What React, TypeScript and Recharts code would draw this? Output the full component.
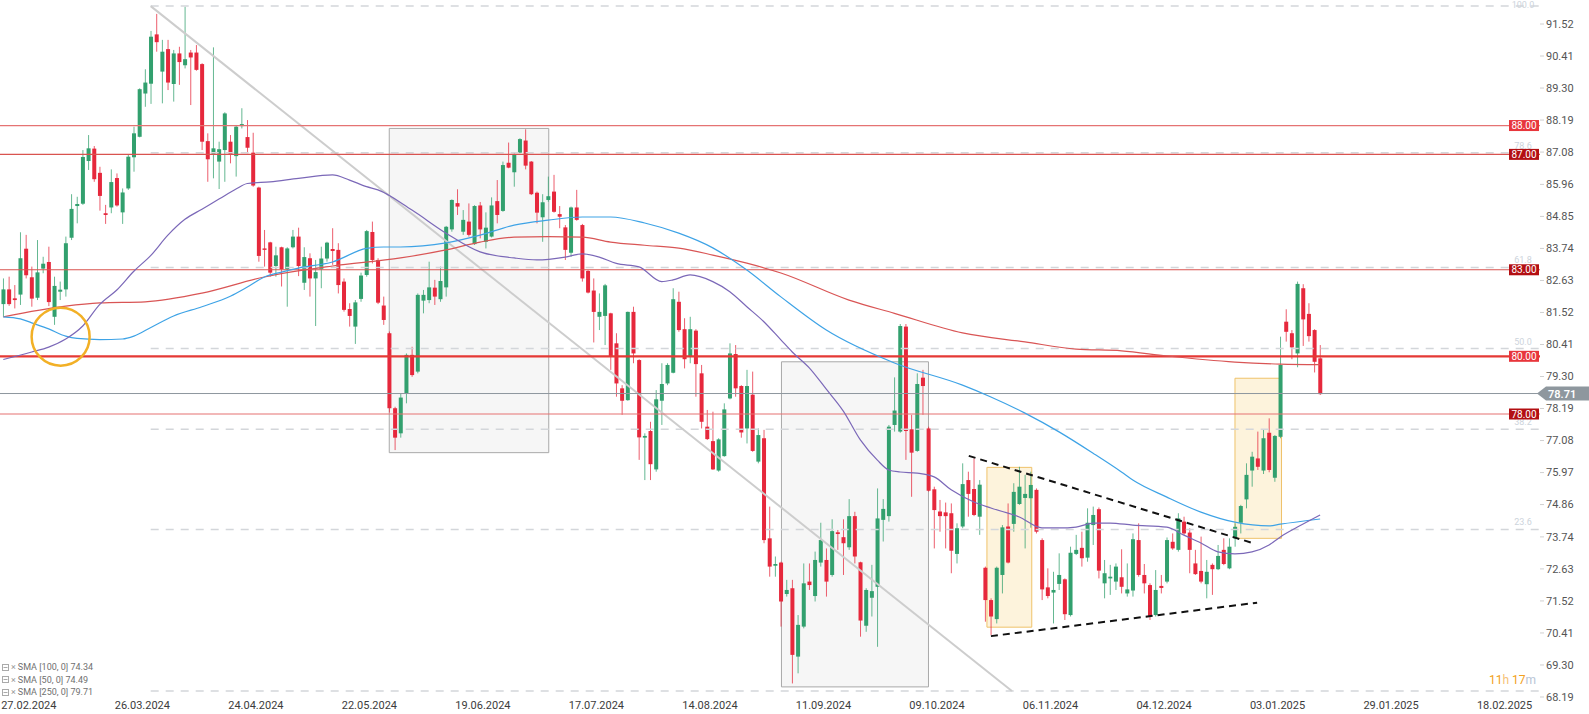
import React from "react";
import {
  ComposedChart,
  Bar,
  Line,
  XAxis,
  YAxis,
  ReferenceLine,
  ReferenceArea,
  ReferenceDot,
} from "recharts";

// daily candles
const OPEN = [
  81.81, 82.32, 82.01, 82.14, 83.73, 82.74, 82.03, 83.04, 83.27, 81.37,
  82.24, 82.32, 84.11, 85.21, 85.29, 86.77, 87.2, 86.36, 84.96, 85.16,
  86.18, 84.99, 85.82, 86.9, 87.61, 89.11, 89.45, 91.16, 89.87, 90.65,
  89.44, 90.5, 90.09, 90.53, 90.53, 90.13, 87.46, 87.01, 86.75, 87.15,
  87.44, 86.94, 87.98, 87.6, 87.06, 85.85, 83.74, 83.95, 83.13, 83.78,
  83.02, 83.78, 84.15, 82.55, 83.4, 82.7, 83.02, 83.39, 83.72, 83.69,
  82.59, 81.64, 81.03, 81.99, 82.82, 84.31, 83.34, 81.76, 80.8, 78.2,
  77.33, 78.72, 80.05, 79.47, 81.93, 81.95, 82.38, 81.98, 82.39, 84.4,
  85.31, 84.32, 84.67, 83.89, 85.23, 83.97, 84.15, 85.38, 85.04, 86.71,
  86.38, 87.06, 87.48, 86.75, 85.67, 84.82, 85.42, 85.71, 84.93, 84.47,
  83.59, 85.16, 84.55, 82.96, 82.28, 81.37, 81.4, 81.49, 80.45, 78.89,
  78.48, 81.54, 79.87, 77.18, 77.41, 76.08, 78.46, 79.06, 79.43, 81.89,
  80.94, 79.99, 80.89, 79.41, 77.56, 77.06, 76.04, 76.54, 78.54, 80.08,
  78.97, 77.5, 78.67, 76.35, 77.16, 73.69, 72.74, 72.85, 71.76, 71.96,
  69.59, 70.63, 72.19, 71.69, 72.85, 72.94, 72.42, 73.9, 73.73, 73.38,
  74.46, 72.86, 70.66, 71.63, 72.01, 74.33, 74.46, 77.62, 77.39, 81.03,
  77.47, 76.72, 79.26, 77.5, 75.39, 74.62, 74.59, 74.56, 73.15, 74.1,
  75.71, 75.4, 74.44, 72.67, 71.55, 70.89, 72.42, 74.1, 74.19, 74.88,
  75.09, 75.08, 75.37, 73.63, 71.99, 71.81, 72.11, 72.27, 71.03, 73.15,
  73.36, 73.02, 74.15, 74.7, 72.13, 72.3, 72.19, 72.34, 71.78, 71.88,
  73.63, 72.42, 72.07, 71.03, 72.04, 72.19, 73.57, 73.29, 74.27, 73.89,
  72.82, 72.56, 72.1, 72.77, 72.62, 73.29, 72.65, 73.69, 74.23, 75.04,
  76.04, 76.46, 76.04, 77.35, 75.79, 77.21, 81.2, 80.8, 80.1, 82.36,
  81.47, 80.91, 79.93,
];
const HIGH = [
  82.7, 82.76, 82.47, 84.3, 84.21, 83.11, 84.03, 83.45, 83.8, 82.76,
  82.59, 84.15, 85.62, 85.53, 87.15, 87.67, 87.29, 86.57, 85.25, 86.48,
  86.34, 85.82, 87.01, 87.96, 89.29, 89.95, 91.28, 91.87, 90.97, 90.97,
  90.62, 90.73, 92.12, 90.62, 90.79, 90.16, 87.73, 90.71, 87.44, 88.46,
  87.67, 88.02, 88.6, 88.19, 87.75, 85.88, 84.38, 83.97, 83.8, 83.8,
  83.78, 84.38, 84.46, 83.78, 83.57, 83.34, 83.8, 83.97, 84.44, 83.92,
  82.7, 81.84, 81.95, 82.9, 84.38, 84.67, 83.4, 82.07, 80.86, 78.25,
  78.72, 80.1, 80.33, 82.18, 82.3, 83.28, 82.65, 83.11, 84.52, 85.44,
  85.79, 85.07, 85.3, 85.24, 85.35, 84.99, 85.51, 86.11, 86.75, 87.41,
  87.04, 87.56, 87.87, 86.77, 85.71, 85.62, 86.23, 86.29, 85.21, 84.55,
  85.19, 85.77, 84.59, 82.99, 82.7, 82.18, 82.51, 81.51, 80.8, 79.0,
  81.55, 81.72, 79.9, 77.33, 77.73, 78.83, 79.76, 79.76, 82.36, 82.24,
  81.32, 81.37, 80.94, 79.7, 78.14, 78.08, 77.16, 78.37, 80.45, 80.39,
  79.0, 79.53, 79.47, 77.5, 77.45, 74.79, 73.06, 72.88, 72.25, 72.25,
  71.03, 72.82, 72.82, 73.23, 74.23, 73.34, 74.35, 73.98, 74.35, 75.05,
  74.61, 72.88, 71.96, 72.77, 75.42, 75.05, 77.62, 79.27, 81.12, 81.12,
  77.97, 79.41, 79.53, 77.56, 75.48, 75.02, 74.93, 74.9, 74.21, 76.29,
  76.0, 76.46, 75.71, 72.71, 71.61, 72.71, 74.15, 74.9, 75.6, 76.17,
  75.89, 76.0, 75.42, 73.69, 72.65, 72.53, 73.17, 72.3, 73.4, 73.81,
  73.92, 74.73, 74.79, 74.76, 72.94, 72.77, 72.82, 73.31, 72.82, 73.86,
  74.21, 72.8, 72.13, 72.59, 72.42, 73.72, 73.86, 74.56, 74.44, 74.04,
  73.29, 73.75, 72.94, 72.82, 73.46, 73.69, 73.69, 74.21, 74.85, 76.29,
  76.69, 77.39, 77.45, 77.85, 77.27, 80.68, 81.63, 80.91, 82.59, 82.5,
  81.84, 80.94, 80.39,
];
const LOW = [
  81.37, 81.75, 81.66, 81.78, 82.7, 81.72, 81.95, 82.88, 81.74, 81.09,
  81.95, 82.07, 84.03, 84.61, 85.25, 86.46, 86.05, 85.05, 84.59, 84.96,
  85.19, 84.59, 85.77, 86.4, 87.59, 88.65, 88.75, 90.56, 88.77, 89.23,
  88.83, 89.41, 89.98, 88.71, 89.9, 87.15, 86.05, 86.17, 85.8, 86.05,
  86.69, 86.23, 87.9, 87.04, 85.88, 83.28, 83.11, 82.76, 82.76, 82.42,
  81.72, 83.74, 82.78, 82.3, 82.07, 81.05, 82.36, 83.28, 83.17, 82.18,
  81.55, 81.03, 80.43, 81.89, 82.76, 83.22, 81.81, 81.09, 78.05, 76.75,
  77.18, 78.37, 79.29, 79.41, 81.49, 81.84, 81.78, 81.89, 82.07, 84.32,
  84.9, 84.21, 84.15, 83.86, 84.09, 83.74, 84.12, 84.61, 85.01, 86.52,
  85.88, 87.04, 86.48, 85.59, 84.61, 83.97, 85.36, 84.98, 84.44, 83.34,
  83.45, 84.7, 82.59, 82.18, 80.48, 80.91, 80.39, 79.53, 78.6, 77.97,
  78.46, 79.76, 76.41, 75.71, 75.71, 76.0, 77.62, 79.0, 79.41, 80.85,
  79.58, 79.76, 78.6, 77.5, 77.1, 76.06, 76.0, 76.52, 78.51, 78.6,
  77.18, 76.98, 76.69, 76.29, 73.52, 72.36, 72.36, 70.63, 71.67, 68.66,
  69.01, 70.57, 71.9, 71.5, 72.71, 71.67, 72.36, 73.29, 72.42, 73.29,
  72.82, 70.28, 70.45, 70.98, 69.93, 73.58, 74.27, 77.39, 77.35, 76.41,
  75.13, 76.69, 77.97, 75.31, 73.34, 73.92, 73.34, 72.48, 72.82, 74.04,
  74.44, 74.46, 73.81, 70.8, 70.34, 70.74, 71.78, 72.82, 73.92, 74.85,
  73.34, 74.06, 73.86, 71.55, 71.61, 70.74, 71.9, 70.86, 70.98, 73.11,
  72.71, 72.88, 73.46, 72.3, 71.61, 71.73, 71.9, 71.78, 71.67, 71.67,
  72.36, 71.78, 70.86, 70.98, 71.78, 72.13, 73.29, 73.23, 73.81, 72.48,
  72.42, 72.13, 71.61, 71.73, 72.59, 72.76, 72.62, 73.4, 73.86, 74.73,
  75.48, 76.06, 75.92, 75.98, 75.65, 77.16, 80.51, 79.9, 79.62, 80.36,
  80.51, 79.44, 78.66,
];
const CLOSE = [
  82.32, 81.81, 81.95, 83.4, 82.81, 82.0, 82.91, 83.21, 81.88, 82.44,
  82.31, 83.92, 85.11, 85.28, 86.91, 87.21, 86.14, 85.56, 84.9, 86.04,
  85.23, 85.68, 86.92, 87.73, 89.26, 89.49, 91.08, 90.89, 90.56, 89.49,
  90.5, 90.2, 90.3, 90.36, 89.93, 87.44, 86.83, 87.21, 87.18, 88.42,
  87.0, 87.96, 88.05, 87.23, 85.92, 83.48, 83.69, 82.9, 83.5, 83.02,
  83.74, 84.15, 83.13, 83.44, 82.7, 82.92, 83.39, 83.94, 83.65, 82.47,
  81.61, 81.4, 81.87, 82.8, 84.34, 83.34, 81.86, 81.26, 78.2, 77.18,
  78.57, 80.05, 79.35, 82.13, 82.13, 82.39, 82.07, 82.61, 84.49, 85.42,
  85.19, 84.73, 84.21, 85.21, 84.4, 84.46, 85.23, 84.9, 86.63, 86.54,
  87.0, 87.53, 86.61, 85.62, 84.98, 85.34, 85.55, 85.01, 84.84, 83.69,
  85.16, 84.73, 82.7, 82.21, 81.54, 81.54, 82.46, 79.99, 79.06, 78.46,
  81.54, 80.1, 77.19, 77.24, 76.26, 78.51, 79.04, 79.7, 81.98, 80.91,
  79.9, 80.94, 79.73, 77.73, 77.13, 76.08, 77.12, 78.16, 80.1, 78.89,
  77.36, 78.97, 76.72, 77.27, 73.63, 72.71, 72.8, 71.5, 71.9, 69.65,
  70.69, 72.13, 72.07, 72.94, 73.63, 72.19, 73.94, 73.84, 73.52, 74.46,
  73.06, 70.84, 71.9, 71.86, 74.38, 74.71, 77.56, 78.12, 81.05, 77.41,
  76.66, 79.04, 78.97, 75.34, 74.67, 74.46, 74.46, 73.26, 74.04, 75.57,
  75.23, 74.5, 75.55, 71.55, 70.98, 72.67, 74.07, 72.85, 75.3, 75.48,
  75.23, 75.54, 73.92, 71.92, 71.69, 71.9, 72.42, 71.06, 73.19, 73.29,
  73.0, 74.23, 74.5, 72.57, 72.48, 72.36, 72.71, 72.01, 71.92, 73.66,
  72.42, 72.13, 71.0, 71.9, 71.97, 73.63, 73.34, 74.38, 73.86, 73.29,
  72.45, 72.19, 72.53, 72.62, 73.08, 72.8, 73.4, 74.09, 74.81, 75.89,
  76.52, 76.17, 77.16, 76.06, 77.24, 79.7, 80.85, 80.31, 82.51, 81.28,
  80.7, 79.81, 78.69,
];

// moving averages, sampled at bar index
const SMA50_AT = [0, 5, 8, 11, 14, 17, 20, 23, 26, 29, 32, 35, 38, 41, 43, 47, 52, 58, 61, 64, 66, 72, 78, 84, 90, 94, 99, 102, 105, 108, 112, 116, 118, 121, 125, 128, 131, 134, 137, 139, 142, 145, 148, 151, 154, 156, 158, 161, 164, 167, 171, 174, 179, 183, 186, 189, 192, 195, 199, 205, 208, 211, 214, 217, 220, 223, 225, 228, 232];
const SMA50 = [79.89, 80.15, 80.32, 80.6, 81.05, 81.8, 82.3, 82.95, 83.5, 84.2, 84.75, 85.1, 85.45, 85.8, 85.99, 86.05, 86.17, 86.29, 86.11, 85.88, 85.77, 85.07, 84.27, 83.62, 83.41, 83.34, 83.44, 83.55, 83.44, 83.22, 83.1, 82.59, 82.65, 82.82, 82.59, 82.24, 81.72, 81.2, 80.57, 80.15, 79.6, 78.86, 78.1, 77.1, 76.4, 76.06, 75.99, 75.95, 75.82, 75.37, 74.95, 74.74, 74.43, 74.05, 74.05, 74.08, 74.22, 74.22, 74.15, 74.08, 73.8, 73.53, 73.22, 73.15, 73.22, 73.46, 73.74, 74.08, 74.5];
const SMA100_AT = [0, 3, 5, 8, 11, 13, 17, 21, 23, 26, 30, 35, 40, 43, 46, 49, 52, 58, 64, 67, 70, 78, 84, 90, 96, 102, 107, 113, 119, 125, 131, 137, 145, 157, 169, 174, 180, 186, 192, 197, 199, 205, 211, 217, 223, 225, 232];
const SMA100 = [81.37, 81.3, 81.16, 80.95, 80.7, 80.62, 80.58, 80.6, 80.7, 81.0, 81.4, 81.72, 82.08, 82.4, 82.75, 82.92, 83.06, 83.27, 83.74, 83.79, 83.79, 83.93, 84.2, 84.55, 84.72, 84.83, 84.83, 84.62, 84.27, 83.76, 82.99, 82.06, 80.91, 79.77, 79.0, 78.59, 78.03, 77.38, 76.64, 75.99, 75.71, 75.12, 74.6, 74.25, 74.12, 74.18, 74.36];
const SMA250_AT = [0, 11, 17, 25, 35, 46, 58, 70, 78, 84, 90, 96, 102, 107, 113, 119, 125, 131, 137, 149, 157, 169, 180, 189, 197, 205, 217, 225, 232];
const SMA250 = [81.37, 81.74, 81.85, 81.89, 82.19, 82.75, 83.13, 83.41, 83.69, 83.96, 84.13, 84.15, 84.13, 83.96, 83.85, 83.75, 83.51, 83.23, 82.89, 81.95, 81.49, 80.81, 80.5, 80.25, 80.19, 80.01, 79.8, 79.73, 79.71];

const DATE_TICKS = [4.5, 24.5, 44.5, 64.5, 84.5, 104.5, 124.5, 144.5, 164.5, 184.5, 204.5, 224.5, 244.5, 264.5];
const DATE_LABELS = ["27.02.2024", "26.03.2024", "24.04.2024", "22.05.2024", "19.06.2024", "17.07.2024", "14.08.2024", "11.09.2024", "09.10.2024", "06.11.2024", "04.12.2024", "03.01.2025", "29.01.2025", "18.02.2025"];
const PRICE_TICKS = [91.52, 90.41, 89.3, 88.19, 87.08, 85.96, 84.85, 83.74, 82.63, 81.52, 80.41, 79.3, 78.19, 77.08, 75.97, 74.86, 73.74, 72.63, 71.52, 70.41, 69.3, 68.19];

const LEVELS = [88, 87, 83, 80, 78];
const LAST_PRICE = 78.71;

const FIB_NAMES = ["23.6", "38.2", "50.0", "61.8", "78.6", "100.0"];
const FIB_PRICES = [74.0, 77.47, 80.27, 83.08, 87.06, 92.14];
const FIB_ZERO = 68.4;
const FIB_START = 25.97;

// boxes: [x1, x2, y1, y2]
const GRAY_BOXES = [
  [68.0, 96.1, 76.66, 87.9],
  [137.1, 163.0, 68.54, 79.81],
];
const GOLD_BOXES = [
  [173.3, 181.2, 70.61, 76.15],
  [217.0, 225.2, 73.69, 79.24],
];
const TREND_DOWN = [{ x: 25.97, y: 92.14 }, { x: 177.7, y: 68.4 }];
const WEDGE_TOP = [{ x: 170.1, y: 76.55 }, { x: 219.9, y: 73.54 }];
const WEDGE_BOTTOM = [{ x: 174.0, y: 70.3 }, { x: 220.9, y: 71.46 }];
const CROSS_MARK = { x: 10.1, y: 80.68 };

const LEGEND_NAMES = ["SMA [100, 0]", "SMA [50, 0]", "SMA [250, 0]"];
const LEGEND_VALUES = [74.34, 74.49, 79.71];

const GREEN = "#32a06e";
const RED = "#e6283c";
const X_DOMAIN = [-0.58, 270.74];
const Y_DOMAIN = [67.635, 92.352];

const LEVEL_STYLE: Record<number, { line: string; w: number; tag: string }> = {
  88: { line: "#e57373", w: 1.2, tag: "#e8363c" },
  87: { line: "#d9534f", w: 1.2, tag: "#b30f12" },
  83: { line: "#d9534f", w: 1.2, tag: "#b30f12" },
  80: { line: "#e53935", w: 2.2, tag: "#e8363c" },
  78: { line: "#e57373", w: 1.2, tag: "#b30f12" },
};

const candles = OPEN.map((o, i) => ({ i, o, h: HIGH[i], l: LOW[i], c: CLOSE[i] }));
const toLine = (at: number[], v: number[]) => at.map((i, k) => ({ i, v: v[k] }));

const Candle = (p: any) => {
  const { x, y, width, height, payload } = p;
  if (!payload || height == null || isNaN(y)) return null;
  const { o, h, l, c } = payload;
  const top = Math.min(y, y + height);
  const full = Math.abs(height);
  const k = full / (h - l);
  const cx = x + width / 2;
  const bTop = top + (h - Math.max(o, c)) * k;
  const bBot = top + (h - Math.min(o, c)) * k;
  const col = c >= o ? GREEN : RED;
  return (
    <g>
      <line x1={cx} x2={cx} y1={top} y2={top + full} stroke={col} strokeWidth={1} strokeOpacity={0.75} />
      <rect x={cx - 2} y={bTop} width={4} height={Math.max(1, bBot - bTop)} fill={col} />
    </g>
  );
};

const vb = (lp: any) => lp.viewBox || lp;

const LevelTag = (text: string, fill: string) => (lp: any) => {
  const { x, y, width } = vb(lp);
  const right = x + width;
  return (
    <g>
      <rect x={right - 31} y={y - 5.5} width={30} height={11} fill={fill} />
      <text x={right - 16} y={y + 3.5} textAnchor="middle" fontSize={10} fill="#fff" fontFamily="Roboto">
        {text}
      </text>
    </g>
  );
};

const FibTag = (text: string) => (lp: any) => {
  const { x, y, width } = vb(lp);
  return (
    <text x={x + width - 17} y={Math.max(y - 4, 8)} textAnchor="middle" fontSize={9} fill="#cdd4dc" fontFamily="Roboto">
      {text}
    </text>
  );
};

const PriceTag = (lp: any) => {
  const { x, y, width } = vb(lp);
  const r = x + width;
  return (
    <g>
      <polygon points={`${r - 3},${y} ${r + 6},${y - 7} ${r + 49},${y - 7} ${r + 49},${y + 7} ${r + 6},${y + 7}`} fill="#8e979e" />
      <text x={r + 8} y={y + 4} fontSize={11} fill="#fff" fontWeight={600} fontFamily="Roboto">
        {LAST_PRICE.toFixed(2)}
      </text>
    </g>
  );
};

const DateTick = (p: any) => {
  const k = DATE_TICKS.indexOf(p.payload.value);
  return (
    <text x={p.x} y={709} textAnchor="middle" fontSize={11} fill="#3c3c3c" fontFamily="Roboto">
      {DATE_LABELS[k]}
    </text>
  );
};

export default function App() {
  return (
    <div style={{ position: "relative", width: 1589, height: 714, fontFamily: "Roboto", background: "#fff" }}>
      <style>{"body{margin:0;}"}</style>
      <ComposedChart width={1589} height={714} data={candles} margin={{ top: 0, right: 0, bottom: 0, left: 0 }}>
        <XAxis
          dataKey="i"
          type="number"
          domain={X_DOMAIN}
          allowDataOverflow
          ticks={DATE_TICKS}
          interval={0}
          height={1}
          tickLine={false}
          axisLine={false}
          tick={<DateTick />}
        />
        <YAxis
          orientation="right"
          width={49}
          domain={Y_DOMAIN}
          allowDataOverflow
          ticks={PRICE_TICKS}
          interval={0}
          tickSize={4}
          tickMargin={2}
          tickLine={{ stroke: "#d0d0d0" }}
          axisLine={false}
          tickFormatter={(v: number) => v.toFixed(2)}
          tick={{ fontSize: 11, fill: "#555", fontFamily: "Roboto" }}
        />

        {GRAY_BOXES.map((b, k) => (
          <ReferenceArea key={`g${k}`} x1={b[0]} x2={b[1]} y1={b[2]} y2={b[3]} fill="#ececec" fillOpacity={0.45} stroke="#a9a9a9" strokeWidth={1} />
        ))}
        {GOLD_BOXES.map((b, k) => (
          <ReferenceArea key={`o${k}`} x1={b[0]} x2={b[1]} y1={b[2]} y2={b[3]} fill="#f9e2a8" fillOpacity={0.4} stroke="#efc26a" strokeWidth={1} />
        ))}

        {FIB_PRICES.map((p, k) => (
          <ReferenceLine
            key={`f${k}`}
            segment={[{ x: FIB_START, y: p }, { x: X_DOMAIN[1], y: p }]}
            stroke="#d3d6da"
            strokeWidth={1.5}
            strokeDasharray="8 7"
            label={FibTag(FIB_NAMES[k])}
          />
        ))}
        <ReferenceLine
          segment={[{ x: FIB_START, y: FIB_ZERO }, { x: X_DOMAIN[1], y: FIB_ZERO }]}
          stroke="#d3d6da"
          strokeWidth={1.5}
          strokeDasharray="8 7"
        />

        <ReferenceLine segment={TREND_DOWN} stroke="#cdcdcd" strokeWidth={2} />

        {LEVELS.map((v) => (
          <ReferenceLine
            key={`l${v}`}
            y={v}
            stroke={LEVEL_STYLE[v].line}
            strokeWidth={LEVEL_STYLE[v].w}
            label={LevelTag(v.toFixed(2), LEVEL_STYLE[v].tag)}
          />
        ))}
        <ReferenceLine y={LAST_PRICE} stroke="#8e979e" strokeWidth={1} label={PriceTag} />

        <Line data={toLine(SMA250_AT, SMA250)} dataKey="v" type="monotone" stroke="#d95555" strokeWidth={1.2} dot={false} activeDot={false} isAnimationActive={false} />
        <Line data={toLine(SMA100_AT, SMA100)} dataKey="v" type="monotone" stroke="#3ea3e6" strokeWidth={1.2} dot={false} activeDot={false} isAnimationActive={false} />
        <Line data={toLine(SMA50_AT, SMA50)} dataKey="v" type="monotone" stroke="#7b68b8" strokeWidth={1.2} dot={false} activeDot={false} isAnimationActive={false} />

        <Bar dataKey={(d: any) => [d.l, d.h]} barSize={4} shape={<Candle />} isAnimationActive={false} />

        <ReferenceLine segment={WEDGE_TOP} stroke="#111" strokeWidth={2} strokeDasharray="7 5" />
        <ReferenceLine segment={WEDGE_BOTTOM} stroke="#111" strokeWidth={2} strokeDasharray="7 5" />
        <ReferenceDot x={CROSS_MARK.x} y={CROSS_MARK.y} r={29} fill="none" stroke="#f2b026" strokeWidth={2.5} />
      </ComposedChart>

      <div style={{ position: "absolute", left: 2, top: 661, fontSize: 9, color: "#6f6f6f", lineHeight: "12.5px" }}>
        {LEGEND_NAMES.map((n, k) => (
          <div key={n} style={{ display: "flex", alignItems: "center", gap: 2, whiteSpace: "nowrap" }}>
            <svg width={7} height={7}>
              <rect x={0.5} y={0.5} width={6} height={6} fill="none" stroke="#aaa" />
              <line x1={1.5} x2={5.5} y1={3.5} y2={3.5} stroke="#aaa" />
            </svg>
            <span style={{ color: "#999", fontSize: 9 }}>×</span>
            <span>
              {n} {LEGEND_VALUES[k].toFixed(2)}
            </span>
          </div>
        ))}
      </div>

      <div style={{ position: "absolute", left: 1489, top: 673, fontSize: 12, lineHeight: "14px", whiteSpace: "nowrap" }}>
        <span style={{ color: "#f2a020" }}>11</span>
        <span style={{ color: "#f6c277" }}>h</span> <span style={{ color: "#f2a020" }}>17</span>
        <span style={{ color: "#b7c5d6" }}>m</span>
      </div>
    </div>
  );
}
